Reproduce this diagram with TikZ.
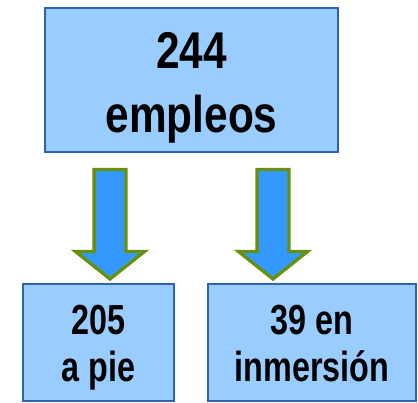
\documentclass[tikz,border=0pt]{standalone}
\usepackage{fontspec}
\newfontfamily\bigfont[FakeStretch=0.82]{Liberation Sans Bold}
\newfontfamily\smallfont[FakeStretch=0.77]{Liberation Sans Bold}
\definecolor{boxfill}{HTML}{99CCFF}
\definecolor{boxline}{HTML}{2F65B0}
\definecolor{arrowfill}{HTML}{3399FF}
\definecolor{arrowline}{HTML}{66910A}
\tikzset{
    count box/.style = {
        draw = boxline,
        fill = boxfill,
        line width = 2pt,
        inner sep = 0pt,
        },
    big text/.style = {
        font = \bigfont\fontsize{51.7}{64}\selectfont,
        align = center,
        inner sep = 0pt,
        },
    small text/.style = {
        font = \smallfont\fontsize{42}{47}\selectfont,
        align = center,
        inner sep = 0pt,
        },
    down arrow/.style = {
        draw = arrowline,
        fill = arrowfill,
        line width = 3.3pt,
        },
}
\begin{document}
\begin{tikzpicture}[x=1pt,y=1pt]
    \useasboundingbox (0,0) rectangle (418,403);

    \node[count box, minimum width=293pt, minimum height=144pt] (total) at (191.5,323) {};
    \node[count box, minimum width=151pt, minimum height=117pt] (pie) at (98.5,60.5) {};
    \node[count box, minimum width=208pt, minimum height=117pt] (inmersion) at (312,60.5) {};

    \node[big text] (totaltext) at ([yshift=-7.5pt]total.center) {244\\empleos};
    \node[small text] (pietext) at ([yshift=-5.5pt]pie.center) {205\\a pie};
    \node[small text] (inmersiontext) at ([yshift=-1pt]inmersion.center) {39 en\\inmersión};

    % the two block arrows
    \foreach \cx in {110,273}
        \draw[down arrow] (\cx-15.9,233.4) -- (\cx+15.9,233.4) -- (\cx+15.9,151.4)
            -- (\cx+34.4,151.4) -- (\cx,124) -- (\cx-34.4,151.4)
            -- (\cx-15.9,151.4) -- cycle;
\end{tikzpicture}
\end{document}
